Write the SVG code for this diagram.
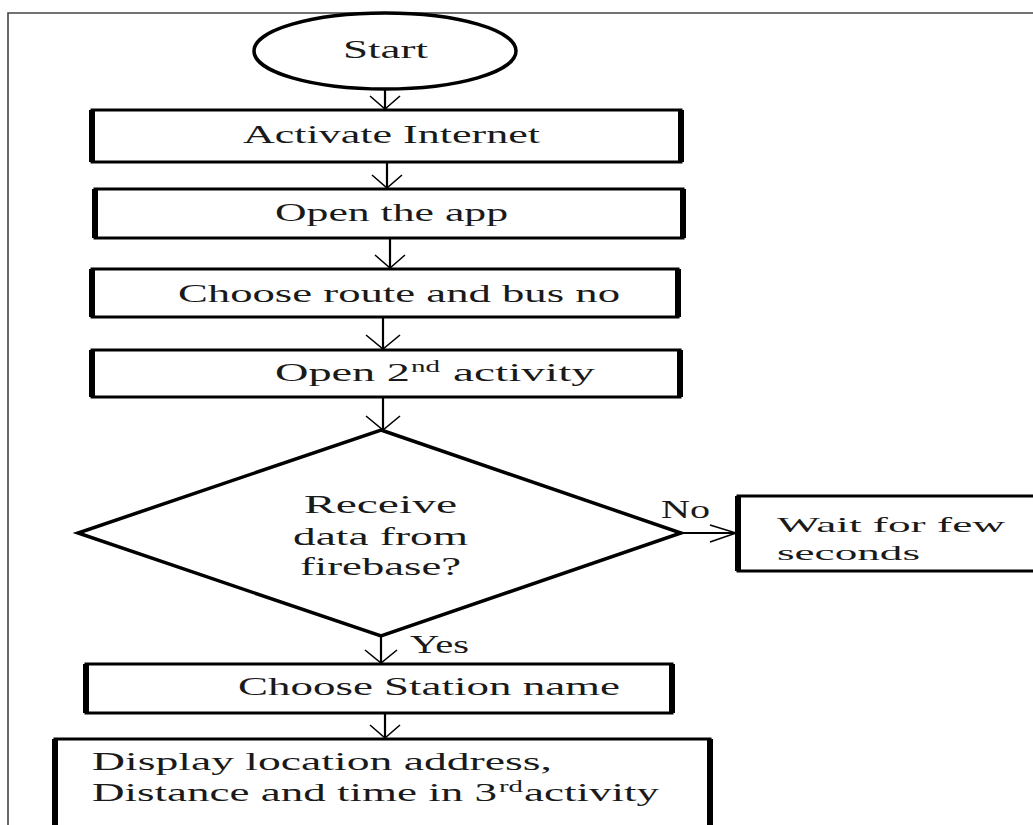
<svg xmlns="http://www.w3.org/2000/svg" width="1033" height="825" viewBox="0 0 1033 825">
<style>
.frame{fill:none;stroke:#444;stroke-width:1.6}
.box{fill:#fff;stroke:#000;stroke-width:3}
.side{fill:none;stroke:#000;stroke-width:6}
.shape{fill:#fff;stroke:#000;stroke-width:3.5}
.conn{fill:none;stroke:#000;stroke-width:2.2}
.head{fill:none;stroke:#000;stroke-width:1.6}
text{font-family:"Liberation Serif","Times New Roman",serif;font-size:25px;fill:#1a1a1a}
.sup{font-size:16px}
.small{font-size:22px}
</style>
<rect width="1033" height="825" fill="#fff"/>
<path class="frame" d="M8,830 V13 H1040"/>
<g id="start">
<ellipse class="shape" cx="385" cy="51" rx="131" ry="38"/>
<text x="343" y="58" textLength="85" lengthAdjust="spacingAndGlyphs" font-size="23">Start</text>
</g>
<g id="activate">
<rect class="box" x="92" y="110" width="589" height="52"/>
<path class="side" d="M92,110 V162 M681,110 V162"/>
<text x="243" y="143" textLength="297" lengthAdjust="spacingAndGlyphs">Activate Internet</text>
</g>
<g id="openapp">
<rect class="box" x="95" y="189" width="588" height="49"/>
<path class="side" d="M95,189 V238 M683,189 V238"/>
<text x="275" y="221" textLength="233" lengthAdjust="spacingAndGlyphs">Open the app</text>
</g>
<g id="choose">
<rect class="box" x="92" y="269" width="586" height="48"/>
<path class="side" d="M92,269 V317 M678,269 V317"/>
<text x="178" y="302" textLength="442" lengthAdjust="spacingAndGlyphs">Choose route and bus no</text>
</g>
<g id="open2">
<rect class="box" x="92" y="350" width="588" height="47"/>
<path class="side" d="M92,350 V397 M680,350 V397"/>
<text x="275" y="381" textLength="135" lengthAdjust="spacingAndGlyphs">Open 2</text>
<text class="sup" x="411" y="372" textLength="29" lengthAdjust="spacingAndGlyphs">nd</text>
<text x="453" y="381" textLength="142" lengthAdjust="spacingAndGlyphs">activity</text>
</g>
<g id="decision">
<polygon class="shape" points="381,430 681,533 381,636 78,533"/>
<text x="304" y="513" textLength="153" lengthAdjust="spacingAndGlyphs">Receive</text>
<text x="293" y="545" textLength="175" lengthAdjust="spacingAndGlyphs">data from</text>
<text x="300" y="575" textLength="161" lengthAdjust="spacingAndGlyphs">firebase?</text>
</g>
<g id="wait">
<rect class="box" x="738" y="496" width="400" height="75"/>
<path class="side" d="M738,496 V571"/>
<text class="small" x="777" y="532" textLength="228" lengthAdjust="spacingAndGlyphs">Wait for few</text>
<text class="small" x="777" y="560" textLength="143" lengthAdjust="spacingAndGlyphs">seconds</text>
</g>
<g id="station">
<rect class="box" x="86" y="664" width="586" height="49"/>
<path class="side" d="M86,664 V713 M672,664 V713"/>
<text x="238" y="695" textLength="382" lengthAdjust="spacingAndGlyphs">Choose Station name</text>
</g>
<g id="display">
<rect class="box" x="55" y="739" width="655" height="120"/>
<path class="side" d="M55,739 V860 M710,739 V860"/>
<text x="92" y="770" textLength="460" lengthAdjust="spacingAndGlyphs">Display location address,</text>
<text x="92" y="801" textLength="405" lengthAdjust="spacingAndGlyphs">Distance and time in 3</text>
<text class="sup" x="499" y="792" textLength="24" lengthAdjust="spacingAndGlyphs">rd</text>
<text x="524" y="801" textLength="135" lengthAdjust="spacingAndGlyphs">activity</text>
</g>
<g id="connectors">
<path class="conn" d="M385,89 V109"/>
<path class="head" d="M370,96 L385,109 L400,96"/>
<path class="conn" d="M387,163 V188"/>
<path class="head" d="M372,175 L387,188 L402,175"/>
<path class="conn" d="M390,239 V268"/>
<path class="head" d="M375,255 L390,268 L405,255"/>
<path class="conn" d="M383,318 V349"/>
<path class="head" d="M366,335 L383,349 L400,335"/>
<path class="conn" d="M383,398 V430"/>
<path class="head" d="M366,416 L383,430 L400,416"/>
<path class="conn" d="M681,533 H736"/>
<path class="head" d="M710,525 L736,533 L710,542"/>
<text x="661" y="518" textLength="49" lengthAdjust="spacingAndGlyphs">No</text>
<path class="conn" d="M381,636 V663"/>
<path class="head" d="M365,650 L381,663 L397,650"/>
<text x="410" y="653" textLength="59" lengthAdjust="spacingAndGlyphs">Yes</text>
<path class="conn" d="M385,714 V738"/>
<path class="head" d="M370,725 L385,738 L400,725"/>
</g>
</svg>
